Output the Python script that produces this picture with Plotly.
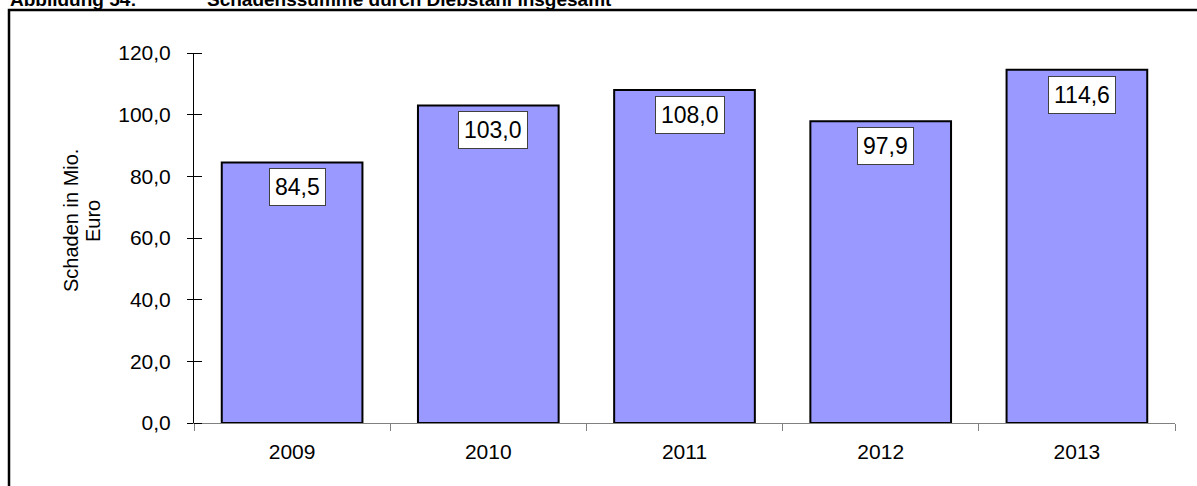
import plotly.graph_objects as go

years = ["2009", "2010", "2011", "2012", "2013"]
values = [84.5, 103.0, 108.0, 97.9, 114.6]
labels = ["84,5", "103,0", "108,0", "97,9", "114,6"]
y_tickvals = [0, 20, 40, 60, 80, 100, 120]
y_ticktext = ["0,0", "20,0", "40,0", "60,0", "80,0", "100,0", "120,0"]
y_title_lines = ["Schaden in Mio.", "Euro"]

xpos = list(range(len(years)))

FONT = "Arial, Liberation Sans, sans-serif"
W, H = 1197, 486
ML, MR, MT, MB = 194, 22, 53, 63
PW, PH = W - ML - MR, H - MT - MB

def px_x(x):
    return (x - ML) / PW

def px_y(y):
    return (H - MB - y) / PH

fig = go.Figure()
fig.add_trace(go.Bar(
    x=xpos, y=values,
    marker=dict(color="#9999FF", line=dict(color="#000000", width=2)),
    hoverinfo="skip", showlegend=False,
))

for xp, v, t in zip(xpos, values, labels):
    fig.add_annotation(
        x=xp, y=v, xref="x", yref="y", text=t, showarrow=False,
        yanchor="top", yshift=-6, xshift=5,
        font=dict(family=FONT, size=23, color="#000000"),
        bgcolor="#FFFFFF", bordercolor="#404040", borderwidth=1, borderpad=5,
    )

# title (partially cut off at top, as in the reference)
fig.add_annotation(
    x=px_x(8), y=px_y(12), xref="paper", yref="paper",
    text="<b>Abbildung 54:</b>", showarrow=False,
    xanchor="left", yanchor="bottom",
    font=dict(family=FONT, size=19, color="#000000"),
)
fig.add_annotation(
    x=px_x(205), y=px_y(12), xref="paper", yref="paper",
    text="<b>Schadenssumme durch Diebstahl insgesamt</b>", showarrow=False,
    xanchor="left", yanchor="bottom",
    font=dict(family=FONT, size=19, color="#000000"),
)

# y axis title (two lines)
for line, xc in zip(y_title_lines, [71, 93]):
    fig.add_annotation(
        x=px_x(xc), y=px_y(221), xref="paper", yref="paper",
        text=line, showarrow=False, textangle=-90,
        xanchor="center", yanchor="middle",
        font=dict(family=FONT, size=20, color="#000000"),
    )

# outer frame
fig.add_shape(
    type="rect", xref="paper", yref="paper",
    x0=px_x(9), x1=px_x(1210), y0=px_y(500), y1=px_y(10),
    line=dict(color="#000000", width=2.5), fillcolor="rgba(0,0,0,0)", layer="below",
)

fig.update_layout(
    width=W, height=H,
    margin=dict(l=ML, r=MR, t=MT, b=MB, pad=0),
    paper_bgcolor="#FFFFFF", plot_bgcolor="#FFFFFF",
    bargap=0.283,
    font=dict(family=FONT, color="#000000"),
    xaxis=dict(
        range=[-0.5, len(years) - 0.5],
        tickmode="array", tickvals=xpos, ticktext=years,
        ticks="", ticklen=7, ticklabelstandoff=10,
        minor=dict(tickmode="linear", tick0=-0.5, dtick=1, ticks="outside",
                   ticklen=7, tickcolor="#808080", tickwidth=1, showgrid=False),
        showline=True, linecolor="#808080", linewidth=1,
        tickfont=dict(family=FONT, size=21, color="#000000"),
        showgrid=False, zeroline=False, fixedrange=True,
    ),
    yaxis=dict(
        range=[0, 120], tickmode="array", tickvals=y_tickvals, ticktext=y_ticktext,
        showline=True, linecolor="#000000", linewidth=1,
        ticks="outside", ticklen=6, tickcolor="#000000", tickwidth=1,
        minor=dict(tickmode="linear", tick0=0, dtick=20, ticks="inside",
                   ticklen=8, tickcolor="#000000", tickwidth=1, showgrid=False),
        tickfont=dict(family=FONT, size=21, color="#000000"),
        ticklabelstandoff=12,
        showgrid=False, zeroline=False, fixedrange=True,
    ),
)

fig.write_html("out.html", config={"displayModeBar": False},
               post_script="document.body.style.margin='0';")
